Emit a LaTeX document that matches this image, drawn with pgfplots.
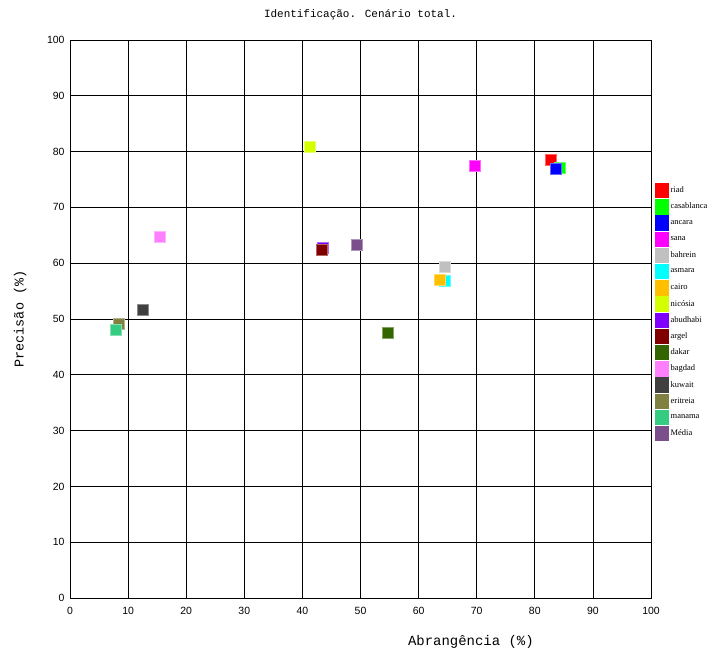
\documentclass[border=0pt]{standalone}
\usepackage{fontspec}
\setmainfont{Liberation Sans}
\newfontfamily\monof{Liberation Mono}
\newfontfamily\legf{Liberation Serif}
\usepackage{pgfplots}
\pgfplotsset{compat=1.18}
\definecolor{cRiad}{HTML}{FF0000}
\definecolor{cCasa}{HTML}{00FF00}
\definecolor{cAnc}{HTML}{0000FF}
\definecolor{cSana}{HTML}{FF00FF}
\definecolor{cBah}{HTML}{C0C0C0}
\definecolor{cAsm}{HTML}{00FFFF}
\definecolor{cCai}{HTML}{FFC000}
\definecolor{cNic}{HTML}{D4FF00}
\definecolor{cAbu}{HTML}{8000FF}
\definecolor{cArg}{HTML}{800000}
\definecolor{cDak}{HTML}{336600}
\definecolor{cBag}{HTML}{FF80FF}
\definecolor{cKuw}{HTML}{404040}
\definecolor{cEri}{HTML}{808040}
\definecolor{cMan}{HTML}{33CC80}
\definecolor{cMed}{HTML}{7B4F8C}
\begin{document}
\begin{tikzpicture}
\begin{axis}[name=ax,
  scale only axis, width=581bp, height=558bp,
  xmin=0, xmax=100, ymin=0, ymax=100,
  xtick={0,10,...,100}, ytick={0,10,...,100},
  grid=major, major grid style={black, line width=0.8pt},
  axis line style={black, line width=0.8pt},
  tick style={draw=none},
  ticklabel style={font=\fontsize{10.5}{11}\selectfont},
  xticklabel style={yshift=-6bp},
  yticklabel style={xshift=-2bp},
  /pgf/number format/assume math mode=true,
  title={Identificação. Cenário total.},
  title style={font=\monof\fontsize{11}{12}\selectfont, at={(axis description cs:0.5,1)}, anchor=base, yshift=17bp},
  xlabel={Abrangência (\%)},
  xlabel style={font=\monof\fontsize{14}{15}\selectfont, at={(axis description cs:0.69,0)}, anchor=base, yshift=-47bp},
  ylabel={Precisão (\%)},
  ylabel style={font=\monof\fontsize{13.5}{15}\selectfont, at={(axis description cs:-0.086,0.5)}, anchor=center, rotate=0},
  legend style={at={(axis description cs:1.007,0.744)}, anchor=north west, draw=none, fill=none,
    font=\legf\fontsize{8.5}{9}\selectfont, inner sep=0pt, row sep=1.4bp,
    nodes={inner sep=0.5pt}},
  legend cell align=left,
  legend image code/.code={\fill[#1] (0bp,-7.2bp) rectangle (13bp,7.2bp);},
  every axis plot/.append style={only marks, mark=square*, mark size=5.5bp},
]
\addplot[cRiad, mark options={fill=cRiad, draw=cRiad!60!white}] coordinates {(82.8,78.5)};
\addlegendentry{\hspace{1.5bp}riad}
\addplot[cCasa, mark options={fill=cCasa, draw=cCasa!60!white}] coordinates {(84.3,77.2)};
\addlegendentry{\hspace{1.5bp}casablanca}
\addplot[cAnc, mark options={fill=cAnc, draw=cAnc!60!white}] coordinates {(83.6,76.9)};
\addlegendentry{\hspace{1.5bp}ancara}
\addplot[cSana, mark options={fill=cSana, draw=cSana!60!white}] coordinates {(69.7,77.4)};
\addlegendentry{\hspace{1.5bp}sana}
\addplot[cBah, mark options={fill=cBah, draw=cBah!60!white}] coordinates {(64.5,59.4)};
\addlegendentry{\hspace{1.5bp}bahrein}
\addplot[cAsm, mark options={fill=cAsm, draw=cAsm!60!white}] coordinates {(64.5,56.9)};
\addlegendentry{\hspace{1.5bp}asmara}
\addplot[cCai, mark options={fill=cCai, draw=cCai!60!white}] coordinates {(63.6,57.1)};
\addlegendentry{\hspace{1.5bp}cairo}
\addplot[cNic, mark options={fill=cNic, draw=cNic!60!white}] coordinates {(41.2,80.8)};
\addlegendentry{\hspace{1.5bp}nicósia}
\addplot[cAbu, mark options={fill=cAbu, draw=cAbu!60!white}] coordinates {(43.5,62.7)};
\addlegendentry{\hspace{1.5bp}abudhabi}
\addplot[cArg, mark options={fill=cArg, draw=cArg!60!white}] coordinates {(43.4,62.4)};
\addlegendentry{\hspace{1.5bp}argel}
\addplot[cDak, mark options={fill=cDak, draw=cDak!60!white}] coordinates {(54.6,47.5)};
\addlegendentry{\hspace{1.5bp}dakar}
\addplot[cBag, mark options={fill=cBag, draw=cBag!60!white}] coordinates {(15.5,64.8)};
\addlegendentry{\hspace{1.5bp}bagdad}
\addplot[cKuw, mark options={fill=cKuw, draw=cKuw!60!white}] coordinates {(12.5,51.6)};
\addlegendentry{\hspace{1.5bp}kuwait}
\addplot[cEri, mark options={fill=cEri, draw=cEri!60!white}] coordinates {(8.3,49.2)};
\addlegendentry{\hspace{1.5bp}eritreia}
\addplot[cMan, mark options={fill=cMan, draw=cMan!60!white}] coordinates {(7.9,48.1)};
\addlegendentry{\hspace{1.5bp}manama}
\addplot[cMed, mark options={fill=cMed, draw=cMed!60!white}] coordinates {(49.3,63.3)};
\addlegendentry{\hspace{1.5bp}Média}
\end{axis}
\pgfresetboundingbox
\path ([xshift=-70bp,yshift=-54bp]ax.south west) rectangle ([xshift=64bp,yshift=40bp]ax.north east);
\end{tikzpicture}
\end{document}
